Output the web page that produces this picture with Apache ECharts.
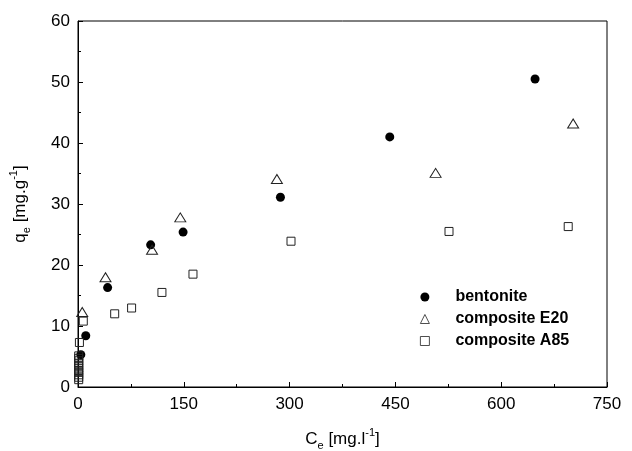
<!DOCTYPE html>
<html>
<head>
<meta charset="utf-8">
<script src="https://cdn.jsdelivr.net/npm/echarts@6/dist/echarts.min.js"></script>
<style>html,body{margin:0;padding:0;background:#fff}#c{width:632px;height:451px}</style>
</head>
<body>
<div id="c"></div>
<script>
// Data: [Ce (mg/l), qe (mg/g)]
const seriesNames = ['bentonite', 'composite E20', 'composite A85'];
const bentonite = [[4, 5.3], [11, 8.4], [42, 16.3], [103, 23.3], [149, 25.4], [287, 31.1], [442, 41.0], [648, 50.5]];
const compositeE20 = [[6, 12.3], [39, 18.0], [105, 22.5], [145, 27.8], [282, 34.1], [507, 35.1], [702, 43.2]];
const compositeA85 = [[1, 1.2], [1, 1.6], [1, 2.0], [1, 2.4], [1, 2.7], [1, 3.1], [1, 3.5], [1, 3.9], [1, 4.3], [1, 4.7], [1, 5.1], [2, 7.3], [7.5, 10.8], [52, 12.0], [76, 12.95], [119, 15.5], [163, 18.5], [302, 23.9], [526, 25.5], [695, 26.3]];
const xTicks = [0, 150, 300, 450, 600, 750];
const yTicks = [0, 10, 20, 30, 40, 50, 60];

const chart = echarts.init(document.getElementById('c'));
const font = 'Liberation Sans, Arial, sans-serif';
const rich = {
  b: { fontSize: 17, fontFamily: font, color: '#000', lineHeight: 24, verticalAlign: 'middle' },
  s: { fontSize: 11, fontFamily: font, color: '#000', lineHeight: 11, verticalAlign: 'bottom' },
  p: { fontSize: 11, fontFamily: font, color: '#000', lineHeight: 11, verticalAlign: 'top' }
};
const axisCommon = {
  axisLine: { show: true, lineStyle: { color: '#000', width: 1 } },
  axisTick: { show: true, inside: true, length: 5, lineStyle: { color: '#000' } },
  minorTick: { show: true, splitNumber: 2, length: 3, lineStyle: { color: '#000' } },
  splitLine: { show: false },
  axisLabel: { fontSize: 17, fontFamily: font, color: '#000' }
};
chart.setOption({
  animation: false,
  grid: { left: 78, right: 25, top: 21, bottom: 64, containLabel: false, outerBoundsMode: 'none',
    show: true, borderColor: '#000', borderWidth: 1, backgroundColor: 'transparent' },
  legend: {
    orient: 'vertical', left: 415, top: 281,
    itemWidth: 9, itemHeight: 9, itemGap: 0,
    data: seriesNames,
    itemStyle: { borderWidth: 0.8 },
    textStyle: { fontSize: 16, fontWeight: 'bold', fontFamily: font, color: '#000', lineHeight: 22, padding: [0, 0, 0, 21] }
  },
  xAxis: Object.assign({}, axisCommon, {
    type: 'value', min: xTicks[0], max: xTicks[xTicks.length - 1], interval: 150,
    axisLabel: Object.assign({}, axisCommon.axisLabel, { margin: 9 }),
    name: '{b|C}{s|e}{b| [mg.l}{p|-1}{b|]}', nameLocation: 'middle', nameGap: 40,
    nameTextStyle: { rich: rich }
  }),
  yAxis: Object.assign({}, axisCommon, {
    type: 'value', min: yTicks[0], max: yTicks[yTicks.length - 1], interval: 10,
    axisLabel: Object.assign({}, axisCommon.axisLabel, { margin: 8 }),
    name: '{b|q}{s|e}{b| [mg.g}{p|-1}{b|]}', nameLocation: 'middle', nameGap: 46,
    nameTextStyle: { rich: rich }
  }),
  series: [
    { name: seriesNames[0], type: 'scatter', data: bentonite, symbol: 'circle', symbolSize: 9,
      itemStyle: { color: '#000', opacity: 1 } },
    { name: seriesNames[1], type: 'scatter', data: compositeE20, symbol: 'triangle', symbolSize: [11, 9],
      itemStyle: { color: 'rgba(255,255,255,0)', borderColor: '#222', borderWidth: 1, opacity: 1 } },
    { name: seriesNames[2], type: 'scatter', data: compositeA85, symbol: 'rect', symbolSize: 8,
      itemStyle: { color: 'rgba(255,255,255,0)', borderColor: '#222', borderWidth: 1, opacity: 1 } }
  ]
});
</script>
</body>
</html>
